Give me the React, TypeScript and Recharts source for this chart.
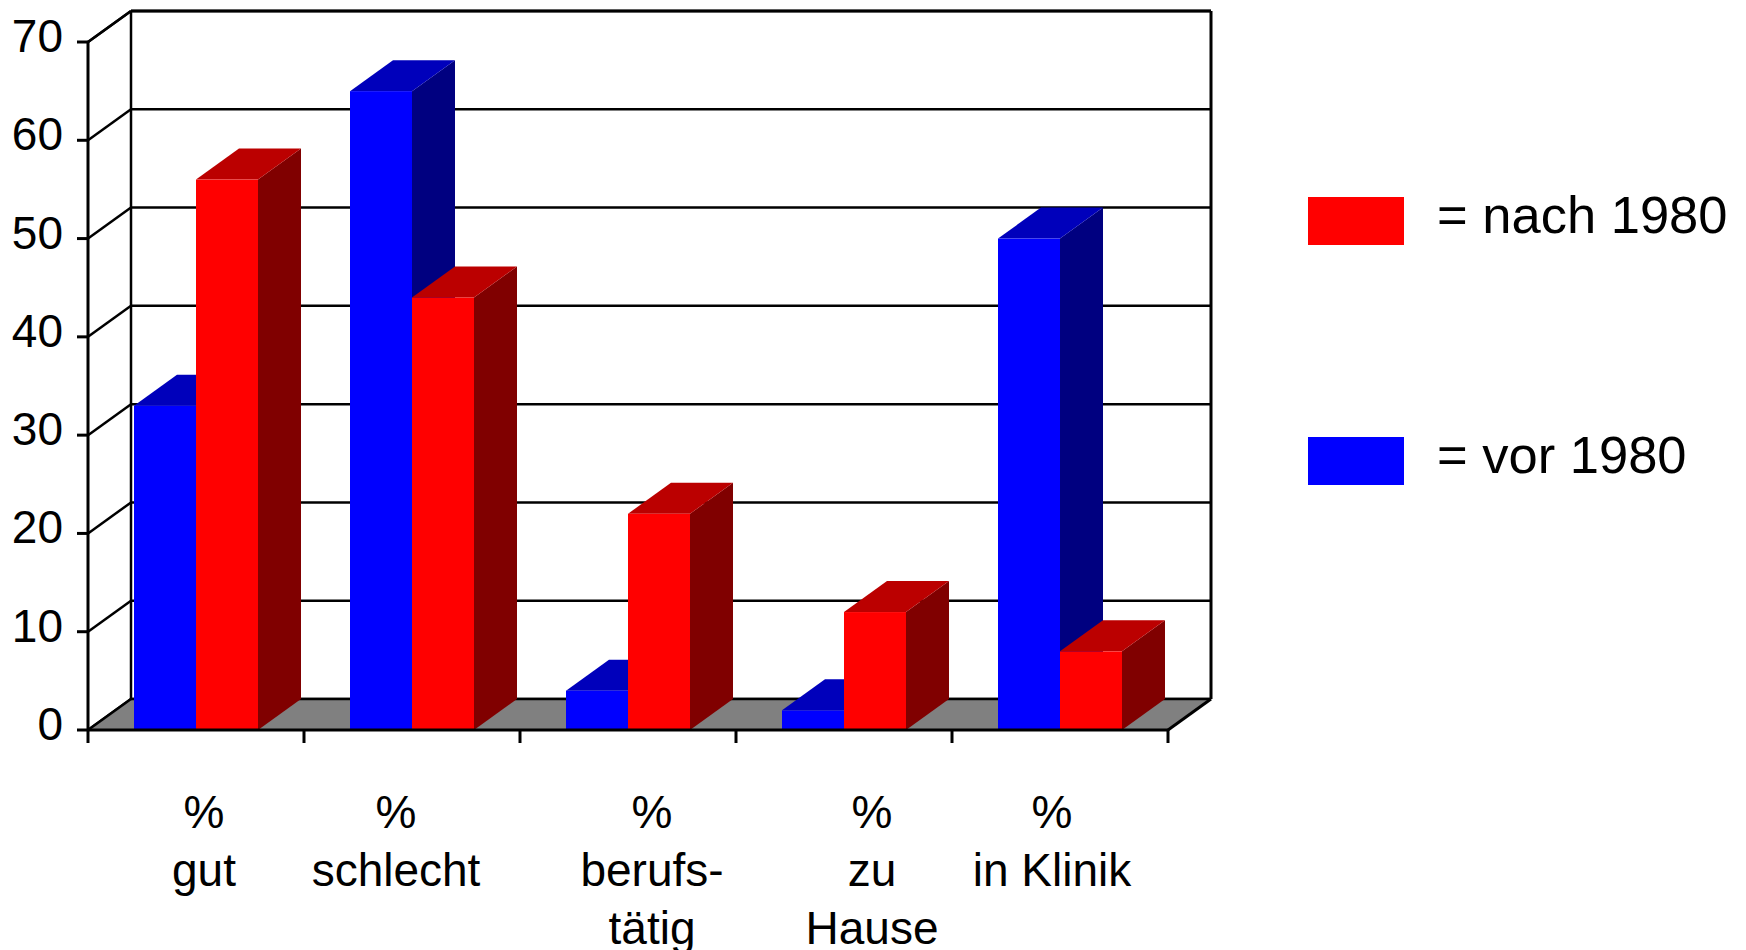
import React from "react";
import { BarChart, Bar, XAxis, YAxis, CartesianGrid, ReferenceArea, Legend } from "recharts";

// Kategorien und Werte (in %)
const categories = ["% gut", "% schlecht", "% berufstätig", "% zu Hause", "% in Klinik"];
const categoryLines = [
  ["%", "gut"],
  ["%", "schlecht"],
  ["%", "berufs-", "tätig"],
  ["%", "zu", "Hause"],
  ["%", "in Klinik"],
];
const vor1980 = [33, 65, 4, 2, 50];
const nach1980 = [56, 44, 22, 12, 8];
const yTicks = [0, 10, 20, 30, 40, 50, 60, 70];

const data = categories.map((name, i) => ({ name, vor: vor1980[i], nach: nach1980[i] }));

// 3D-Tiefe (nach hinten rechts oben)
const DX = 43;
const DY = 31;
const FONT = '"Liberation Sans", Arial, sans-serif';
const BLUE = { front: "#0000ff", top: "#0000bb", side: "#000080" };
const RED = { front: "#ff0000", top: "#bb0000", side: "#800000" };
// kleine horizontale Verschiebung der Achsenbeschriftungen wie im Original
const LABEL_SHIFT = [8, -16, 24, 28, -8];

function Bar3D(props: any) {
  const { x, y, width, height, c } = props;
  if (width == null || height == null) return <g />;
  const r = x + width;
  const b = y + height;
  return (
    <g>
      <polygon points={`${r},${y} ${r + DX},${y - DY} ${r + DX},${b - DY} ${r},${b}`} fill={c.side} />
      <polygon points={`${x},${y} ${x + DX},${y - DY} ${r + DX},${y - DY} ${r},${y}`} fill={c.top} />
      <rect x={x} y={y} width={width} height={height} fill={c.front} />
    </g>
  );
}

// Rückwand-Gitterlinie + Seitenlinie zur Frontachse
const gridLine = (p: any) => (
  <g key={`g-${p.index}`}>
    <line x1={p.x1} y1={p.y1} x2={p.x1 + DX} y2={p.y1 - DY} stroke="#000" strokeWidth={2.5} />
    <line x1={p.x1 + DX} y1={p.y1 - DY} x2={p.x2 + DX} y2={p.y2 - DY} stroke="#000" strokeWidth={2.5} />
  </g>
);

// Boden und Rahmen der Rückwand
function Frame(p: any) {
  const { x, y, width, height } = p;
  const r = x + width;
  const b = y + height;
  const ln = { stroke: "#000", strokeWidth: 2.5 };
  return (
    <g>
      <polygon points={`${x},${b} ${r},${b} ${r + DX},${b - DY} ${x + DX},${b - DY}`} fill="#808080" />
      <line x1={x + DX} y1={y - DY} x2={x + DX} y2={b - DY} {...ln} />
      <line x1={r + DX} y1={y - DY} x2={r + DX} y2={b - DY} {...ln} strokeWidth={3} />
      <line x1={x + DX} y1={y - DY} x2={r + DX} y2={y - DY} {...ln} strokeWidth={3} />
      <line x1={x + DX} y1={b - DY} x2={r + DX} y2={b - DY} {...ln} />
      <line x1={x} y1={y} x2={x + DX} y2={y - DY} {...ln} />
      <line x1={x} y1={b} x2={x + DX} y2={b - DY} {...ln} />
      <line x1={r} y1={b} x2={r + DX} y2={b - DY} {...ln} strokeWidth={3} />
    </g>
  );
}

const YTick = (p: any) => (
  <text x={p.x - 14} y={p.y + 10} textAnchor="end" fontSize={46} fontFamily={FONT} fill="#000">
    {p.payload.value}
  </text>
);

const XTick = (p: any) => {
  const { x, y, payload } = p;
  const idx = categories.indexOf(payload.value);
  const half = payload.offset ?? 108;
  const lines = categoryLines[idx] ?? [payload.value];
  const cx = x + (LABEL_SHIFT[idx] ?? 0);
  return (
    <g>
      <line x1={x - half} y1={y} x2={x - half} y2={y + 13} stroke="#000" strokeWidth={3} />
      {idx === categories.length - 1 && (
        <line x1={x + half} y1={y} x2={x + half} y2={y + 13} stroke="#000" strokeWidth={3} />
      )}
      <text x={cx} y={y + 98} textAnchor="middle" fontSize={46} fontFamily={FONT} fill="#000">
        {lines.map((l, k) => (
          <tspan key={k} x={cx} dy={k === 0 ? 0 : 58}>
            {l}
          </tspan>
        ))}
      </text>
    </g>
  );
};

const legendOrder = ["nach", "vor"];
const LegendBox = (p: any) => {
  const items = [...(p.payload ?? [])].sort(
    (a: any, b: any) => legendOrder.indexOf(a.dataKey) - legendOrder.indexOf(b.dataKey),
  );
  return (
    <div style={{ fontFamily: FONT }}>
      {items.map((it: any, i: number) => (
        <div
          key={it.dataKey}
          style={{ display: "flex", alignItems: "center", height: 48, marginBottom: i === 0 ? 192 : 0 }}
        >
          <div style={{ width: 96, height: 48, background: it.color }} />
          <span
            style={{
              marginLeft: 33,
              fontSize: 52.5,
              lineHeight: "52px",
              position: "relative",
              top: -6,
              color: "#000",
              whiteSpace: "nowrap",
            }}
          >
            = {it.value}
          </span>
        </div>
      ))}
    </div>
  );
};

export default function App() {
  return (
    <div style={{ position: "fixed", left: 0, top: 0, width: 1746, height: 950, background: "#fff" }}>
      <BarChart
        width={1746}
        height={950}
        data={data}
        margin={{ top: 42, right: 578, bottom: 0, left: 0 }}
        barGap={0}
        barCategoryGap={46}
      >
        <CartesianGrid horizontal={gridLine} vertical={false} />
        <ReferenceArea y1={0} y2={70} shape={Frame} ifOverflow="visible" />
        <XAxis
          dataKey="name"
          height={220}
          interval={0}
          tickLine={false}
          tickSize={0}
          tickMargin={0}
          axisLine={{ stroke: "#000", strokeWidth: 3 }}
          tick={XTick}
        />
        <YAxis
          type="number"
          domain={[0, 70]}
          ticks={yTicks}
          interval={0}
          width={88}
          tickSize={11}
          tickMargin={0}
          axisLine={{ stroke: "#000", strokeWidth: 3 }}
          tickLine={{ stroke: "#000", strokeWidth: 3 }}
          tick={YTick}
        />
        <Legend
          layout="vertical"
          align="center"
          verticalAlign="middle"
          wrapperStyle={{ left: 1308, top: 197, width: 438 }}
          content={LegendBox}
        />
        <Bar
          dataKey="vor"
          name="vor 1980"
          fill={BLUE.front}
          shape={(p: any) => <Bar3D {...p} c={BLUE} />}
          isAnimationActive={false}
        />
        <Bar
          dataKey="nach"
          name="nach 1980"
          fill={RED.front}
          shape={(p: any) => <Bar3D {...p} c={RED} />}
          isAnimationActive={false}
        />
      </BarChart>
    </div>
  );
}
